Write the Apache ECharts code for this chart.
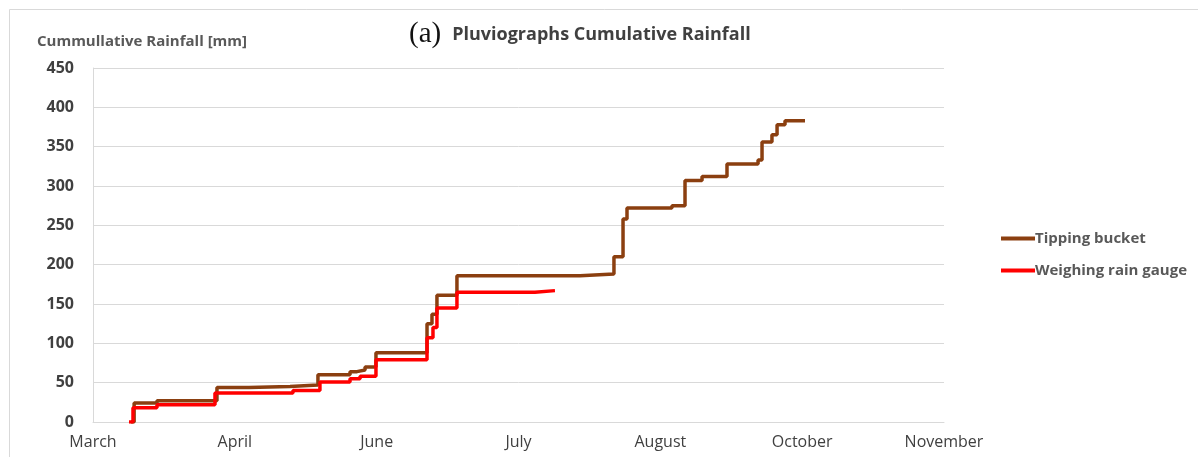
<!DOCTYPE html>
<html>
<head>
<meta charset="utf-8">
<script src="https://cdn.jsdelivr.net/npm/echarts@6/dist/echarts.min.js"></script>
<style>
  html, body { margin: 0; padding: 0; background: #fff; }
  #chart { width: 1198px; height: 457px; }
</style>
</head>
<body>
<div id="chart"></div>
<script>
// month labels, evenly spaced along x (one unit per label)
var monthLabels = ["March", "April", "June", "July", "August", "October", "November"];

// tipping bucket: [x position in label units, cumulative mm from there on]
var tippingX = [0.268, 0.29, 0.451, 0.874, 1.10, 1.389, 1.586, 1.812, 1.861, 1.918, 1.995, 2.355, 2.390, 2.425, 2.566, 3.434, 3.673, 3.737, 3.765, 4.082, 4.174, 4.294, 4.470, 4.689, 4.717, 4.787, 4.823, 4.879, 5.020];
var tippingY = [0, 24, 27, 44, 45, 47, 60, 64, 66, 70, 88, 125, 137, 161, 186, 188, 210, 258, 272, 275, 307, 312, 328, 333, 356, 365, 378, 383, 383];

// weighing rain gauge
var weighingX = [0.254, 0.282, 0.451, 0.860, 1.410, 1.600, 1.812, 1.883, 1.995, 2.355, 2.397, 2.425, 2.566, 3.116, 3.257];
var weighingY = [0, 18, 22, 37, 40, 51, 55, 58, 79, 107, 120, 145, 165, 167, 167];

function pairs(xs, ys) {
  var out = [];
  for (var i = 0; i < xs.length; i++) {
    out.push([xs[i], ys[i]]);
  }
  return out;
}

var chart = echarts.init(document.getElementById("chart"));
var option = {
  animation: false,
  backgroundColor: "#fff",
  graphic: [{
    type: "rect",
    left: 7, top: 7,
    shape: { width: 1200, height: 460 },
    style: { fill: "none", stroke: "#d9d9d9", lineWidth: 1 }
  }],
  title: {
    text: "{a|(a)} {b|Pluviographs Cumulative Rainfall}",
    left: 404,
    top: 15,
    textStyle: {
      rich: {
        a: { fontFamily: "Liberation Serif", fontSize: 29, fontWeight: "normal", color: "#111" },
        b: { fontFamily: "Open Sans", fontSize: 18, fontWeight: "bold", color: "#404040", padding: [0, 0, 0, 6] }
      }
    }
  },
  legend: {
    orient: "vertical",
    left: 996,
    top: 226,
    itemWidth: 34,
    itemHeight: 4,
    itemGap: 17,
    icon: "rect",
    textStyle: { fontFamily: "Open Sans", fontSize: 15, fontWeight: "bold", color: "#595959", padding: [0, 0, 0, -5] },
    data: ["Tipping bucket", "Weighing rain gauge"]
  },
  grid: { left: 93, right: 254, top: 68, bottom: 35 },
  xAxis: {
    type: "value",
    min: 0,
    max: 6,
    interval: 1,
    axisLine: { lineStyle: { color: "#d9d9d9", width: 1 } },
    axisTick: { show: false },
    splitLine: { show: false },
    axisLabel: {
      margin: 12,
      fontFamily: "Open Sans",
      fontSize: 16,
      color: "#404040",
      formatter: function (v) { return monthLabels[Math.round(v)] || ""; }
    }
  },
  yAxis: {
    type: "value",
    min: 0,
    max: 450,
    interval: 50,
    name: "Cummullative Rainfall [mm]",
    nameLocation: "end",
    nameGap: 19,
    nameTextStyle: { fontFamily: "Open Sans", fontSize: 15, fontWeight: "bold", color: "#595959", align: "left", padding: [0, 0, 0, -56] },
    axisLine: { show: true, lineStyle: { color: "#d9d9d9" } },
    axisTick: { show: false },
    splitLine: { lineStyle: { color: "#d9d9d9", width: 1 } },
    axisLabel: { margin: 19, fontFamily: "Open Sans", fontSize: 16, fontWeight: "bold", color: "#404040" }
  },
  series: [
    {
      name: "Tipping bucket",
      type: "line",
      step: "end",
      showSymbol: false,
      color: "#8B3F10",
      lineStyle: { width: 3.5, color: "#8B3F10" },
      z: 2,
      data: pairs(tippingX, tippingY)
    },
    {
      name: "Weighing rain gauge",
      type: "line",
      step: "end",
      showSymbol: false,
      color: "#ff0000",
      lineStyle: { width: 3.5, color: "#ff0000" },
      z: 3,
      data: pairs(weighingX, weighingY)
    }
  ]
};
chart.setOption(option);
</script>
</body>
</html>
